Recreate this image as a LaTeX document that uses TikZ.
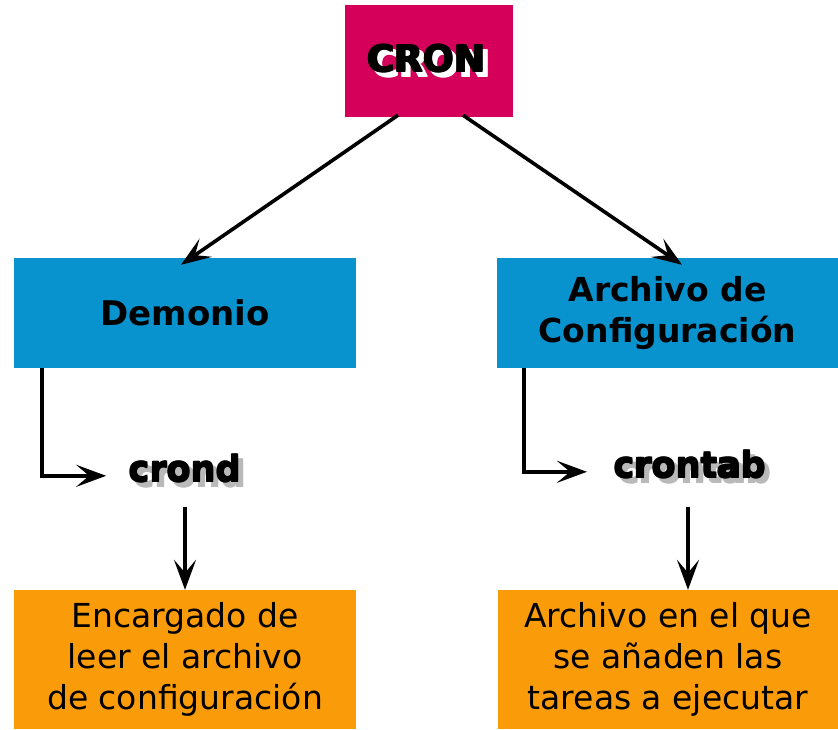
\documentclass[tikz,border=0pt]{standalone}
\usepackage{fontspec}
\setmainfont{DejaVu Sans}
\newfontfamily\heavyfont{DejaVu Sans Bold}
\usetikzlibrary{arrows.meta}
\definecolor{cronpink}{RGB}{212,0,90}
\definecolor{boxblue}{RGB}{8,146,206}
\definecolor{boxorange}{RGB}{250,155,10}
% thicker strokes: the same text laid over itself, a little apart
\newcommand{\heavy}[1]{\makebox[0pt][l]{#1}\makebox[0pt][l]{\raisebox{1.3pt}{#1}}\makebox[0pt][l]{\hspace{1.3pt}\raisebox{1.3pt}{#1}}\hspace{1.3pt}#1}
\newcommand{\shadowed}[3]{\makebox[0pt][l]{\hspace{#3}\raisebox{-#3}{\color{#1}#2}}#2\hspace{#3}}
\begin{document}
\begin{tikzpicture}[x=1pt,y=-1pt,
	arr/.style={line width=3.6pt,-{Stealth[length=30pt,width=22pt,inset=13pt]}},
	box/.style={rectangle,inner sep=0pt,align=center,text=black},
	cmd/.style={inner sep=0pt,anchor=base,font=\heavyfont\fontsize{35}{40}\selectfont}]
	\useasboundingbox (0,0) rectangle (838,729);
	\node[box,fill=cronpink,minimum width=168pt,minimum height=112pt,font=\heavyfont\fontsize{37}{40}\selectfont] (cron) at (429,61) {\shadowed{white}{\heavy{CRON}}{5pt}};
	\node[box,fill=boxblue,minimum width=342pt,minimum height=110pt,font=\bfseries\fontsize{34}{41}\selectfont] (demonio) at (185,313) {Demonio};
	\node[box,fill=boxblue,minimum width=341pt,minimum height=110pt,font=\bfseries\fontsize{33}{41}\selectfont] (config) at (667.5,313) {Archivo de\\Configuración};
	\node[cmd] (crond) at (185,482) {\shadowed{gray!55}{\heavy{crond}}{5pt}};
	\node[cmd] (crontab) at (690,478) {\shadowed{gray!55}{\heavy{crontab}}{5pt}};
	\node[box,fill=boxorange,minimum width=342pt,minimum height=139pt,font=\fontsize{33}{41}\selectfont] (encargado) at (185,659.5) {Encargado de\\leer el archivo\\de configuración};
	\node[box,fill=boxorange,minimum width=340pt,minimum height=139pt,font=\fontsize{33}{41}\selectfont] (tareas) at (668,659.5) {Archivo en el que\\se añaden las\\tareas a ejecutar};
	\draw[arr] ([xshift=-31pt,yshift=2pt]cron.south) -- ([xshift=-4pt,yshift=-7pt]demonio.north);
	\draw[arr] ([xshift=34pt,yshift=2pt]cron.south) -- ([xshift=14.5pt,yshift=-7pt]config.north);
	\draw[arr] ([xshift=28pt]demonio.south west) |- ([xshift=-22pt,yshift=-5pt]crond.west);
	\draw[arr] ([xshift=27pt]config.south west) |- ([xshift=-26pt,yshift=-5pt]crontab.west);
	\draw[arr] ([yshift=-19pt]crond.south) -- (crond.south |- encargado.north);
	\draw[arr] ([xshift=-2pt,yshift=-23pt]crontab.south) -- ([xshift=-2pt]crontab.south |- tareas.north);
\end{tikzpicture}
\end{document}
